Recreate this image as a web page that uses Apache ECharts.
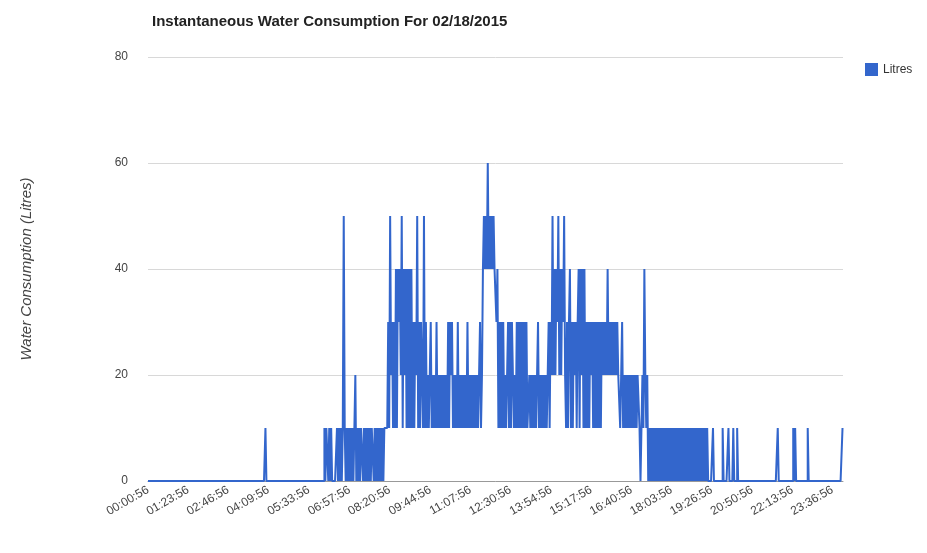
<!DOCTYPE html>
<html>
<head>
<meta charset="utf-8">
<script src="https://cdn.jsdelivr.net/npm/echarts@6/dist/echarts.min.js"></script>
<style>html,body{margin:0;padding:0;background:#fff}#c{width:927px;height:553px}</style>
</head>
<body>
<div id="c"></div>
<script>
// Readings at 2-minute steps, one array per hour (minute offsets from 00:00:56)
const h00 = [0,0,0,0,0,0,0,0,0,0,0,0,0,0,0,0,0,0,0,0,0,0,0,0,0,0,0,0,0,0];
const h01 = [0,0,0,0,0,0,0,0,0,0,0,0,0,0,0,0,0,0,0,0,0,0,0,0,0,0,0,0,0,0];
const h02 = [0,0,0,0,0,0,0,0,0,0,0,0,0,0,0,0,0,0,0,0,0,0,0,0,0,0,0,0,0,0];
const h03 = [0,0,0,0,0,0,0,0,0,0,0,0,0,0,0,0,0,0,0,0,0,0,0,0,0,0,0,0,0,0];
const h04 = [0,0,10,0,0,0,0,0,0,0,0,0,0,0,0,0,0,0,0,0,0,0,0,0,0,0,0,0,0,0];
const h05 = [0,0,0,0,0,0,0,0,0,0,0,0,0,0,0,0,0,0,0,0,0,0,0,0,0,0,0,0,0,0];
const h06 = [0,0,0,10,0,10,10,0,10,0,10,0,0,0,0,0,10,0,10,0,10,0,10,50,10,0,10,0,10,0];
const h07 = [10,0,10,0,10,20,0,10,0,10,0,10,10,0,10,0,10,0,10,0,10,0,10,10,0,10,0,10,0,10];
const h08 = [0,10,0,10,0,10,10,10,10,30,10,50,20,30,10,30,10,40,10,40,30,40,20,50,10,40,20,40,10,40];
const h09 = [10,40,10,40,10,30,10,30,20,50,10,30,10,30,20,10,50,10,30,10,20,10,20,30,10,20,10,20,10,30];
const h10 = [10,20,10,20,10,20,10,20,10,20,10,30,10,30,20,30,10,20,10,20,10,30,10,20,10,20,10,20,10,20];
const h11 = [10,30,10,20,10,20,10,20,10,20,10,20,10,20,30,10,20,40,50,40,50,40,60,40,50,40,50,40,50,40];
const h12 = [40,30,40,10,30,10,30,10,30,10,20,10,20,30,10,30,10,30,20,10,20,10,30,10,30,10,30,10,30,10];
const h13 = [30,10,30,10,10,20,10,20,10,20,10,20,10,20,30,10,20,10,20,10,20,10,20,10,20,30,10,30,20,50];
const h14 = [20,40,20,40,30,50,20,40,20,40,30,50,20,10,30,10,30,40,10,30,10,30,20,30,10,30,40,10,40,20];
const h15 = [40,10,40,10,30,10,30,10,30,20,30,10,30,10,30,10,30,10,30,10,30,20,30,20,30,20,40,20,30,20];
const h16 = [30,20,30,20,30,20,30,20,20,10,20,30,10,20,10,20,10,20,10,20,10,20,10,20,10,20,10,20,20,10];
const h17 = [0,10,20,10,40,20,10,20,0,10,0,10,0,10,0,10,0,10,0,10,0,10,0,10,0,10,0,10,0,10];
const h18 = [0,10,0,10,0,10,0,10,0,10,0,10,0,10,0,10,0,10,0,10,0,10,0,10,0,10,0,10,0,10];
const h19 = [0,10,0,10,0,10,0,10,0,10,0,0,0,0,0,10,0,0,0,0,0,0,0,0,0,10,0,0,0,0];
const h20 = [0,10,0,0,0,0,10,0,0,0,10,0,0,0,0,0,0,0,0,0,0,0,0,0,0,0,0,0,0,0];
const h21 = [0,0,0,0,0,0,0,0,0,0,0,0,0,0,0,0,0,0,0,0,0,0,10,0,0,0,0,0,0,0];
const h22 = [0,0,0,0,0,0,0,0,10,0,10,0,0,0,0,0,0,0,0,0,0,0,0,10,0,0,0,0,0,0];
const h23 = [0,0,0,0,0,0,0,0,0,0,0,0,0,0,0,0,0,0,0,0,0,0,0,0,0,0,0,0,0,10];

const tickLabels = ['00:00:56','01:23:56','02:46:56','04:09:56','05:33:56','06:57:56','08:20:56','09:44:56','11:07:56','12:30:56','13:54:56','15:17:56','16:40:56','18:03:56','19:26:56','20:50:56','22:13:56','23:36:56'];
const seriesName = 'Litres';
const titleText = 'Instantaneous Water Consumption For 02/18/2015';
const yTitle = 'Water Consumption (Litres)';

const hours = [h00,h01,h02,h03,h04,h05,h06,h07,h08,h09,h10,h11,h12,h13,h14,h15,h16,h17,h18,h19,h20,h21,h22,h23];
const values = [].concat(...hours);
const data = values.map((v, i) => [i * 2, v]);
const tickMinutes = tickLabels.map(s => { const p = s.split(':'); return (+p[0]) * 60 + (+p[1]); });
const labelByMinute = {};
tickMinutes.forEach((m, i) => { labelByMinute[m] = tickLabels[i]; });

const chart = echarts.init(document.getElementById('c'), null, {renderer: 'canvas'});
chart.setOption({
  animation: false,
  backgroundColor: '#fff',
  title: {
    text: titleText, left: 147, top: 9,
    textStyle: {fontFamily: 'Liberation Sans, Arial', fontSize: 15, fontWeight: 'bold', color: '#222'}
  },
  legend: {
    data: [seriesName], left: 860, top: 58, orient: 'vertical',
    icon: 'rect', itemWidth: 13, itemHeight: 13, itemGap: 4,
    textStyle: {fontFamily: 'Liberation Sans, Arial', fontSize: 12, color: '#333'}
  },
  grid: {left: 148, top: 57, width: 695, height: 424, containLabel: false},
  xAxis: {
    type: 'value', min: 0, max: 1438,
    axisLine: {show: true, lineStyle: {color: '#999', width: 1}},
    axisTick: {show: false},
    splitLine: {show: false},
    axisLabel: {
      customValues: tickMinutes, rotate: 30, margin: 8,
      fontFamily: 'Liberation Sans, Arial', fontSize: 12, color: '#444',
      formatter: v => labelByMinute[v] || ''
    }
  },
  yAxis: {
    type: 'value', min: 0, max: 80, interval: 20,
    name: yTitle, nameLocation: 'middle', nameGap: 114,
    nameTextStyle: {fontFamily: 'Liberation Sans, Arial', fontSize: 15, fontStyle: 'italic', color: '#444'},
    axisLine: {show: false}, axisTick: {show: false},
    axisLabel: {margin: 20, fontFamily: 'Liberation Sans, Arial', fontSize: 12, color: '#444'},
    splitLine: {lineStyle: {color: '#d8d8d8', width: 1}}
  },
  series: [{
    name: seriesName, type: 'line', data: data, step: 'middle',
    showSymbol: false, symbol: 'none', smooth: false,
    lineStyle: {color: '#3366cc', width: 2},
    itemStyle: {color: '#3366cc'}
  }]
});
</script>
</body>
</html>
